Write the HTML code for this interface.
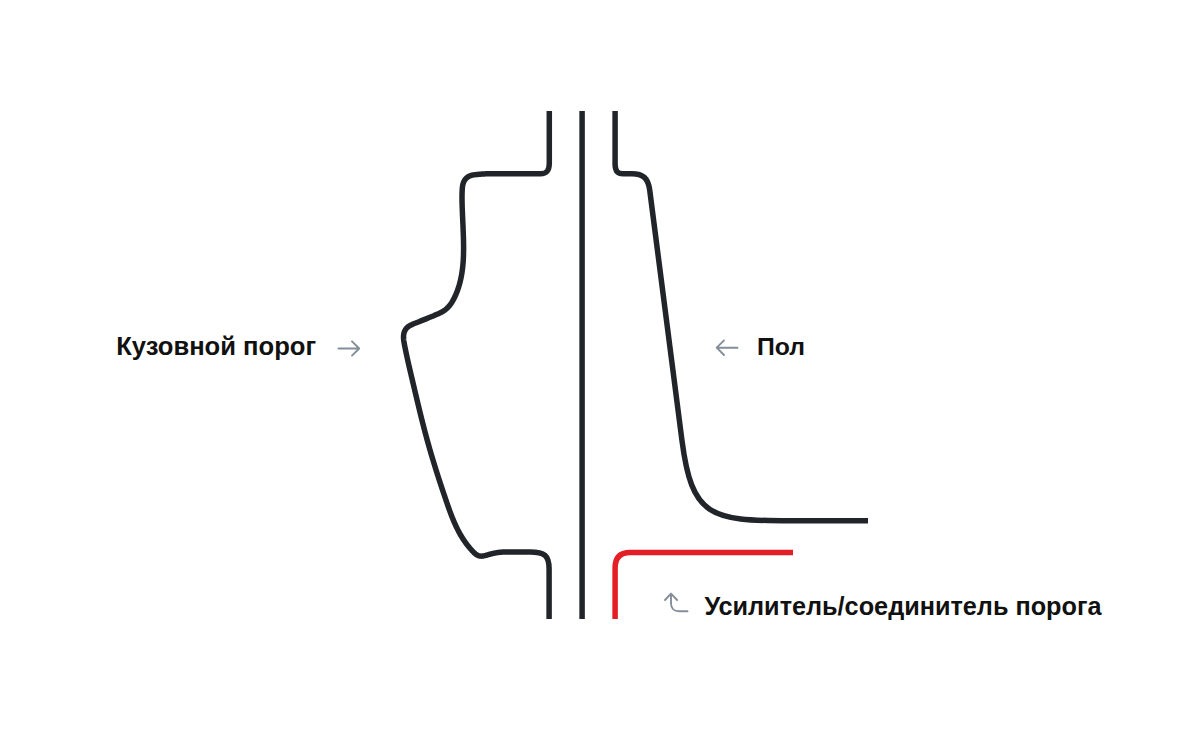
<!DOCTYPE html>
<html><head><meta charset="utf-8">
<style>
html,body{margin:0;padding:0;background:#fff;width:1200px;height:750px;overflow:hidden;}
svg{position:absolute;left:0;top:0;}
.t{position:absolute;font-family:"Liberation Sans",sans-serif;font-weight:bold;color:#111;white-space:nowrap;line-height:1;}
</style></head>
<body>
<svg width="1200" height="750" viewBox="0 0 1200 750">
<g fill="none" stroke="#212529" stroke-width="5.5" stroke-linejoin="round">
<path d="M549.3 111 V163 C549.3 170.5 547 173.7 540.5 173.7 H515 L515 173.68 L514.3 173.69 L513.6 173.7 L512.9 173.71 L512.2 173.72 L511.5 173.72 L510.8 173.73 L510.1 173.73 L509.4 173.73 L508.7 173.73 L508 173.73 L507.3 173.73 L506.6 173.73 L505.9 173.72 L505.2 173.72 L504.5 173.71 L503.8 173.71 L503.1 173.7 L502.4 173.7 L501.7 173.69 L501 173.69 L500.3 173.68 L499.6 173.68 L498.9 173.67 L498.2 173.67 L497.5 173.67 L496.8 173.67 L496.1 173.67 L495.4 173.67 L494.7 173.67 L494 173.67 L493.3 173.68 L492.6 173.68 L491.9 173.69 L491.2 173.7 L490.5 173.71 L489.8 173.72 L489.1 173.74 L488.4 173.76 L487.7 173.78 L487 173.8 L486.3 173.83 L485.6 173.86 L484.9 173.89 L484.2 173.92 L483.51 173.96 L482.81 174 L482.11 174.05 L481.41 174.09 L480.71 174.15 L480.01 174.2 L479.31 174.26 L478.61 174.33 L477.91 174.39 L477.21 174.47 L476.52 174.54 L475.82 174.62 L475.12 174.71 L474.42 174.8 L473.72 174.9 L473.03 175.01 L472.34 175.14 L471.66 175.29 L470.99 175.48 L470.33 175.69 L469.69 175.94 L469.05 176.23 L468.44 176.56 L467.84 176.94 L467.27 177.36 L466.72 177.81 L466.2 178.3 L465.71 178.82 L465.26 179.36 L464.84 179.92 L464.46 180.5 L464.12 181.1 L463.82 181.71 L463.55 182.34 L463.31 182.99 L463.11 183.64 L462.93 184.31 L462.77 184.98 L462.64 185.67 L462.53 186.36 L462.43 187.06 L462.36 187.76 L462.29 188.47 L462.24 189.18 L462.2 189.89 L462.16 190.61 L462.13 191.32 L462.11 192.03 L462.08 192.74 L462.06 193.45 L462.05 194.16 L462.04 194.87 L462.03 195.57 L462.02 196.28 L462.01 196.98 L462.01 197.69 L462.01 198.39 L462.02 199.09 L462.02 199.79 L462.03 200.49 L462.04 201.19 L462.05 201.89 L462.07 202.59 L462.08 203.29 L462.1 203.99 L462.12 204.69 L462.14 205.38 L462.16 206.08 L462.19 206.77 L462.21 207.47 L462.23 208.17 L462.26 208.86 L462.29 209.56 L462.31 210.25 L462.34 210.94 L462.37 211.64 L462.4 212.33 L462.42 213.03 L462.45 213.72 L462.48 214.41 L462.51 215.11 L462.54 215.8 L462.57 216.49 L462.6 217.19 L462.63 217.88 L462.66 218.58 L462.69 219.27 L462.72 219.96 L462.75 220.66 L462.78 221.35 L462.81 222.05 L462.85 222.74 L462.88 223.44 L462.91 224.13 L462.94 224.83 L462.97 225.52 L463 226.22 L463.03 226.91 L463.05 227.61 L463.08 228.31 L463.11 229.01 L463.14 229.7 L463.17 230.4 L463.2 231.1 L463.22 231.8 L463.25 232.5 L463.28 233.2 L463.3 233.9 L463.33 234.6 L463.35 235.3 L463.37 236.01 L463.4 236.71 L463.42 237.41 L463.44 238.12 L463.46 238.82 L463.48 239.52 L463.49 240.23 L463.51 240.93 L463.53 241.64 L463.54 242.34 L463.55 243.05 L463.56 243.76 L463.57 244.46 L463.58 245.17 L463.59 245.87 L463.59 246.58 L463.59 247.29 L463.59 247.99 L463.59 248.7 L463.59 249.4 L463.59 250.11 L463.58 250.82 L463.57 251.52 L463.56 252.23 L463.54 252.93 L463.53 253.64 L463.51 254.34 L463.49 255.05 L463.46 255.75 L463.44 256.46 L463.41 257.16 L463.38 257.87 L463.34 258.57 L463.31 259.27 L463.27 259.97 L463.22 260.68 L463.18 261.38 L463.13 262.08 L463.07 262.78 L463.02 263.48 L462.96 264.18 L462.9 264.88 L462.83 265.57 L462.76 266.27 L462.69 266.97 L462.61 267.66 L462.53 268.36 L462.45 269.05 L462.36 269.75 L462.27 270.44 L462.17 271.13 L462.07 271.82 L461.97 272.51 L461.86 273.2 L461.75 273.89 L461.63 274.57 L461.51 275.26 L461.38 275.94 L461.25 276.63 L461.12 277.31 L460.98 277.99 L460.84 278.67 L460.69 279.35 L460.54 280.03 L460.38 280.71 L460.22 281.38 L460.05 282.06 L459.88 282.73 L459.7 283.4 L459.51 284.07 L459.33 284.74 L459.13 285.41 L458.93 286.07 L458.73 286.74 L458.52 287.4 L458.3 288.06 L458.08 288.72 L457.85 289.38 L457.62 290.03 L457.38 290.69 L457.14 291.34 L456.89 291.99 L456.63 292.64 L456.37 293.29 L456.1 293.94 L455.83 294.58 L455.55 295.22 L455.26 295.86 L454.97 296.5 L454.67 297.14 L454.36 297.77 L454.04 298.4 L453.72 299.03 L453.39 299.65 L453.05 300.27 L452.7 300.88 L452.35 301.48 L451.98 302.08 L451.61 302.67 L451.22 303.25 L450.83 303.83 L450.42 304.39 L450 304.95 L449.57 305.5 L449.13 306.03 L448.68 306.55 L448.21 307.07 L447.74 307.57 L447.25 308.05 L446.74 308.52 L446.22 308.98 L445.69 309.43 L445.14 309.86 L444.58 310.27 L444.01 310.67 L443.42 311.05 L442.81 311.42 L442.2 311.78 L441.58 312.12 L440.95 312.45 L440.31 312.77 L439.66 313.09 L439.01 313.39 L438.36 313.69 L437.7 313.98 L437.05 314.27 L436.39 314.56 L435.74 314.84 L435.08 315.12 L434.43 315.39 L433.78 315.67 L433.14 315.94 L432.49 316.21 L431.85 316.48 L431.2 316.75 L430.56 317.02 L429.92 317.28 L429.28 317.55 L428.64 317.81 L428 318.07 L427.36 318.33 L426.72 318.59 L426.08 318.85 L425.44 319.11 L424.8 319.37 L424.16 319.63 L423.52 319.88 L422.87 320.14 L422.23 320.4 L421.59 320.66 L420.94 320.92 L420.29 321.17 L419.65 321.43 L419 321.69 L418.34 321.95 L417.69 322.21 L417.04 322.47 L416.38 322.73 L415.72 323 L415.05 323.26 L414.39 323.53 L413.72 323.8 L413.06 324.07 L412.4 324.36 L411.75 324.65 L411.11 324.96 L410.48 325.28 L409.86 325.61 L409.26 325.97 L408.68 326.35 L408.12 326.75 L407.59 327.17 L407.09 327.63 L406.61 328.12 L406.16 328.63 L405.75 329.18 L405.38 329.77 L405.04 330.37 L404.73 331 L404.46 331.64 L404.23 332.29 L404.03 332.95 L403.87 333.62 L403.74 334.29 L403.64 334.97 L403.58 335.65 L403.54 336.34 L403.52 337.02 L403.53 337.72 L403.56 338.41 L403.61 339.11 L403.68 339.81 L403.77 340.51 L403.86 341.22 L403.97 341.92 L404.09 342.62 L404.22 343.33 L404.35 344.03 L404.48 344.74 L404.62 345.44 L404.75 346.14 L404.89 346.84 L405.03 347.54 L405.17 348.24 L405.31 348.94 L405.45 349.63 L405.6 350.33 L405.74 351.02 L405.88 351.71 L406.03 352.41 L406.17 353.1 L406.32 353.79 L406.47 354.48 L406.61 355.17 L406.76 355.85 L406.91 356.54 L407.06 357.23 L407.21 357.91 L407.36 358.6 L407.51 359.28 L407.67 359.97 L407.82 360.65 L407.97 361.33 L408.12 362.01 L408.28 362.69 L408.43 363.38 L408.59 364.06 L408.74 364.74 L408.9 365.42 L409.05 366.09 L409.21 366.77 L409.37 367.45 L409.53 368.13 L409.68 368.81 L409.84 369.49 L410 370.16 L410.16 370.84 L410.32 371.52 L410.47 372.2 L410.63 372.87 L410.79 373.55 L410.95 374.23 L411.11 374.9 L411.27 375.58 L411.43 376.26 L411.59 376.93 L411.75 377.61 L411.91 378.29 L412.07 378.96 L412.23 379.64 L412.39 380.32 L412.55 381 L412.71 381.68 L412.87 382.35 L413.03 383.03 L413.19 383.71 L413.35 384.39 L413.51 385.07 L413.67 385.75 L413.83 386.43 L413.99 387.11 L414.15 387.79 L414.31 388.47 L414.47 389.15 L414.63 389.83 L414.79 390.51 L414.95 391.19 L415.11 391.87 L415.28 392.55 L415.44 393.23 L415.6 393.91 L415.76 394.59 L415.92 395.27 L416.08 395.95 L416.24 396.63 L416.41 397.31 L416.57 397.99 L416.73 398.68 L416.89 399.36 L417.05 400.04 L417.22 400.72 L417.38 401.4 L417.54 402.08 L417.71 402.76 L417.87 403.45 L418.03 404.13 L418.2 404.81 L418.36 405.49 L418.53 406.17 L418.69 406.85 L418.86 407.54 L419.02 408.22 L419.19 408.9 L419.35 409.58 L419.52 410.26 L419.69 410.94 L419.85 411.63 L420.02 412.31 L420.19 412.99 L420.35 413.67 L420.52 414.35 L420.69 415.03 L420.86 415.71 L421.03 416.39 L421.2 417.08 L421.37 417.76 L421.54 418.44 L421.71 419.12 L421.88 419.8 L422.05 420.48 L422.22 421.16 L422.39 421.84 L422.57 422.52 L422.74 423.2 L422.91 423.88 L423.09 424.56 L423.26 425.24 L423.44 425.92 L423.61 426.6 L423.79 427.28 L423.96 427.96 L424.14 428.64 L424.32 429.31 L424.49 429.99 L424.67 430.67 L424.85 431.35 L425.03 432.03 L425.21 432.7 L425.39 433.38 L425.57 434.06 L425.75 434.74 L425.93 435.41 L426.11 436.09 L426.3 436.77 L426.48 437.44 L426.67 438.12 L426.85 438.79 L427.03 439.47 L427.22 440.15 L427.41 440.82 L427.59 441.49 L427.78 442.17 L427.97 442.84 L428.16 443.52 L428.35 444.19 L428.54 444.86 L428.73 445.54 L428.92 446.21 L429.11 446.88 L429.3 447.55 L429.5 448.23 L429.69 448.9 L429.88 449.57 L430.08 450.24 L430.27 450.91 L430.47 451.58 L430.66 452.26 L430.86 452.93 L431.06 453.6 L431.25 454.27 L431.45 454.94 L431.65 455.61 L431.85 456.28 L432.05 456.95 L432.25 457.62 L432.45 458.28 L432.65 458.95 L432.85 459.62 L433.06 460.29 L433.26 460.96 L433.46 461.63 L433.67 462.3 L433.87 462.96 L434.08 463.63 L434.28 464.3 L434.49 464.97 L434.69 465.63 L434.9 466.3 L435.11 466.97 L435.31 467.64 L435.52 468.3 L435.73 468.97 L435.94 469.64 L436.15 470.3 L436.36 470.97 L436.57 471.64 L436.78 472.3 L436.99 472.97 L437.2 473.63 L437.42 474.3 L437.63 474.97 L437.84 475.63 L438.06 476.3 L438.27 476.96 L438.48 477.63 L438.7 478.29 L438.91 478.96 L439.13 479.62 L439.35 480.29 L439.56 480.95 L439.78 481.62 L440 482.28 L440.21 482.95 L440.43 483.61 L440.65 484.28 L440.87 484.94 L441.09 485.61 L441.31 486.27 L441.53 486.94 L441.75 487.6 L441.97 488.27 L442.19 488.93 L442.41 489.6 L442.63 490.26 L442.85 490.93 L443.08 491.59 L443.3 492.26 L443.52 492.92 L443.75 493.58 L443.97 494.25 L444.19 494.91 L444.42 495.58 L444.64 496.24 L444.87 496.91 L445.1 497.57 L445.32 498.24 L445.55 498.9 L445.77 499.57 L446 500.23 L446.23 500.9 L446.45 501.56 L446.68 502.23 L446.91 502.89 L447.14 503.56 L447.37 504.22 L447.6 504.88 L447.83 505.55 L448.07 506.21 L448.3 506.87 L448.53 507.54 L448.77 508.2 L449.01 508.86 L449.24 509.52 L449.48 510.18 L449.72 510.84 L449.97 511.5 L450.21 512.16 L450.45 512.82 L450.7 513.47 L450.95 514.13 L451.2 514.79 L451.45 515.44 L451.71 516.09 L451.96 516.74 L452.22 517.4 L452.48 518.05 L452.75 518.69 L453.01 519.34 L453.28 519.99 L453.55 520.63 L453.82 521.28 L454.1 521.92 L454.38 522.56 L454.66 523.2 L454.94 523.84 L455.23 524.47 L455.52 525.11 L455.81 525.74 L456.11 526.37 L456.41 527 L456.71 527.63 L457.02 528.25 L457.33 528.88 L457.64 529.5 L457.95 530.12 L458.27 530.73 L458.6 531.35 L458.92 531.96 L459.26 532.58 L459.59 533.19 L459.93 533.79 L460.27 534.4 L460.62 535 L460.97 535.6 L461.33 536.2 L461.69 536.79 L462.05 537.38 L462.42 537.97 L462.79 538.56 L463.17 539.15 L463.55 539.73 L463.94 540.31 L464.33 540.89 L464.73 541.46 L465.13 542.03 L465.54 542.6 L465.95 543.17 L466.37 543.73 L466.79 544.3 L467.22 544.86 L467.65 545.41 L468.09 545.97 L468.54 546.52 L468.99 547.07 L469.44 547.62 L469.9 548.16 L470.37 548.7 L470.84 549.24 L471.32 549.78 L471.81 550.32 L472.3 550.85 L472.79 551.38 L473.3 551.9 L473.81 552.41 L474.33 552.9 L474.86 553.37 L475.4 553.82 L475.94 554.24 L476.5 554.63 L477.07 554.98 L477.65 555.29 L478.25 555.56 L478.85 555.78 L479.48 555.95 L480.11 556.06 L480.76 556.12 L481.42 556.13 L482.09 556.1 L482.77 556.02 L483.46 555.92 L484.15 555.78 L484.85 555.62 L485.56 555.45 L486.26 555.26 L486.97 555.06 L487.67 554.85 L488.37 554.65 L489.07 554.45 L489.77 554.26 L490.46 554.07 L491.15 553.89 L491.84 553.72 L492.52 553.56 L493.21 553.4 L493.89 553.25 L494.57 553.11 L495.26 552.97 L495.94 552.85 L496.62 552.73 L497.3 552.62 L497.99 552.52 L498.67 552.43 L499.36 552.35 L500.05 552.27 L500.74 552.21 L501.43 552.15 L502.12 552.1 L502.81 552.05 L503.51 552.02 L504.21 551.99 L504.9 551.96 L505.6 551.94 L506.3 551.92 L507 551.91 L507.7 551.9 L508.39 551.9 L509.1 551.89 L509.8 551.89 L510.5 551.9 L511.2 551.9 L511.9 551.91 L512.6 551.91 L513.3 551.92 L514 551.92 L514.7 551.93 L515.4 551.94 L516.1 551.94 L516.8 551.94 L517.5 551.95 L518.2 551.95 L518.9 551.95 L519.6 551.96 L520.3 551.96 L521 551.96 L521.7 551.96 L522.4 551.97 L523.1 551.97 L523.8 551.97 L524.5 551.98 L525.2 551.98 L525.9 551.98 L526.6 551.99 L527.3 551.99 L528 552 L530 552 C544.5 552 549.1 555.5 549.1 569 V619"/>
<path d="M582.1 111 V619"/>
<path d="M615.1 111 V164 C615.1 170.5 617 173.8 623 173.8 H632 C643 173.8 648 178 649.7 190 L681.9 440 C691.8 516.9 710 520.75 790 520.75 H868"/>
</g>
<path d="M615.1 619 V568 C615.1 558 620 552.6 630 552.6 H793" fill="none" stroke="#E31E24" stroke-width="5.5"/>
<g fill="none" stroke="#848E9A" stroke-width="1.9" stroke-linecap="round" stroke-linejoin="round">
<path d="M338.5 348.5 H359.2 M352 341.3 L359.2 348.5 L352 355.7"/>
<path d="M737.5 347.7 H716.7 M724 340.4 L716.7 347.7 L724 355"/>
<path d="M687.5 611.3 H679 C674 611.3 671 608 671 603.5 V593.6 M665 600 L671 593.6 L677.1 600"/>
</g>

</svg>
<div class="t" id="t1" style="left:116.2px;top:333.8px;font-size:25.6px;">Кузовной порог</div>
<div class="t" id="t2" style="left:757px;top:334.6px;font-size:24.8px;">Пол</div>
<div class="t" id="t3" style="left:704.4px;top:593.6px;font-size:25.25px;">Усилитель/соединитель порога</div>
</body></html>
